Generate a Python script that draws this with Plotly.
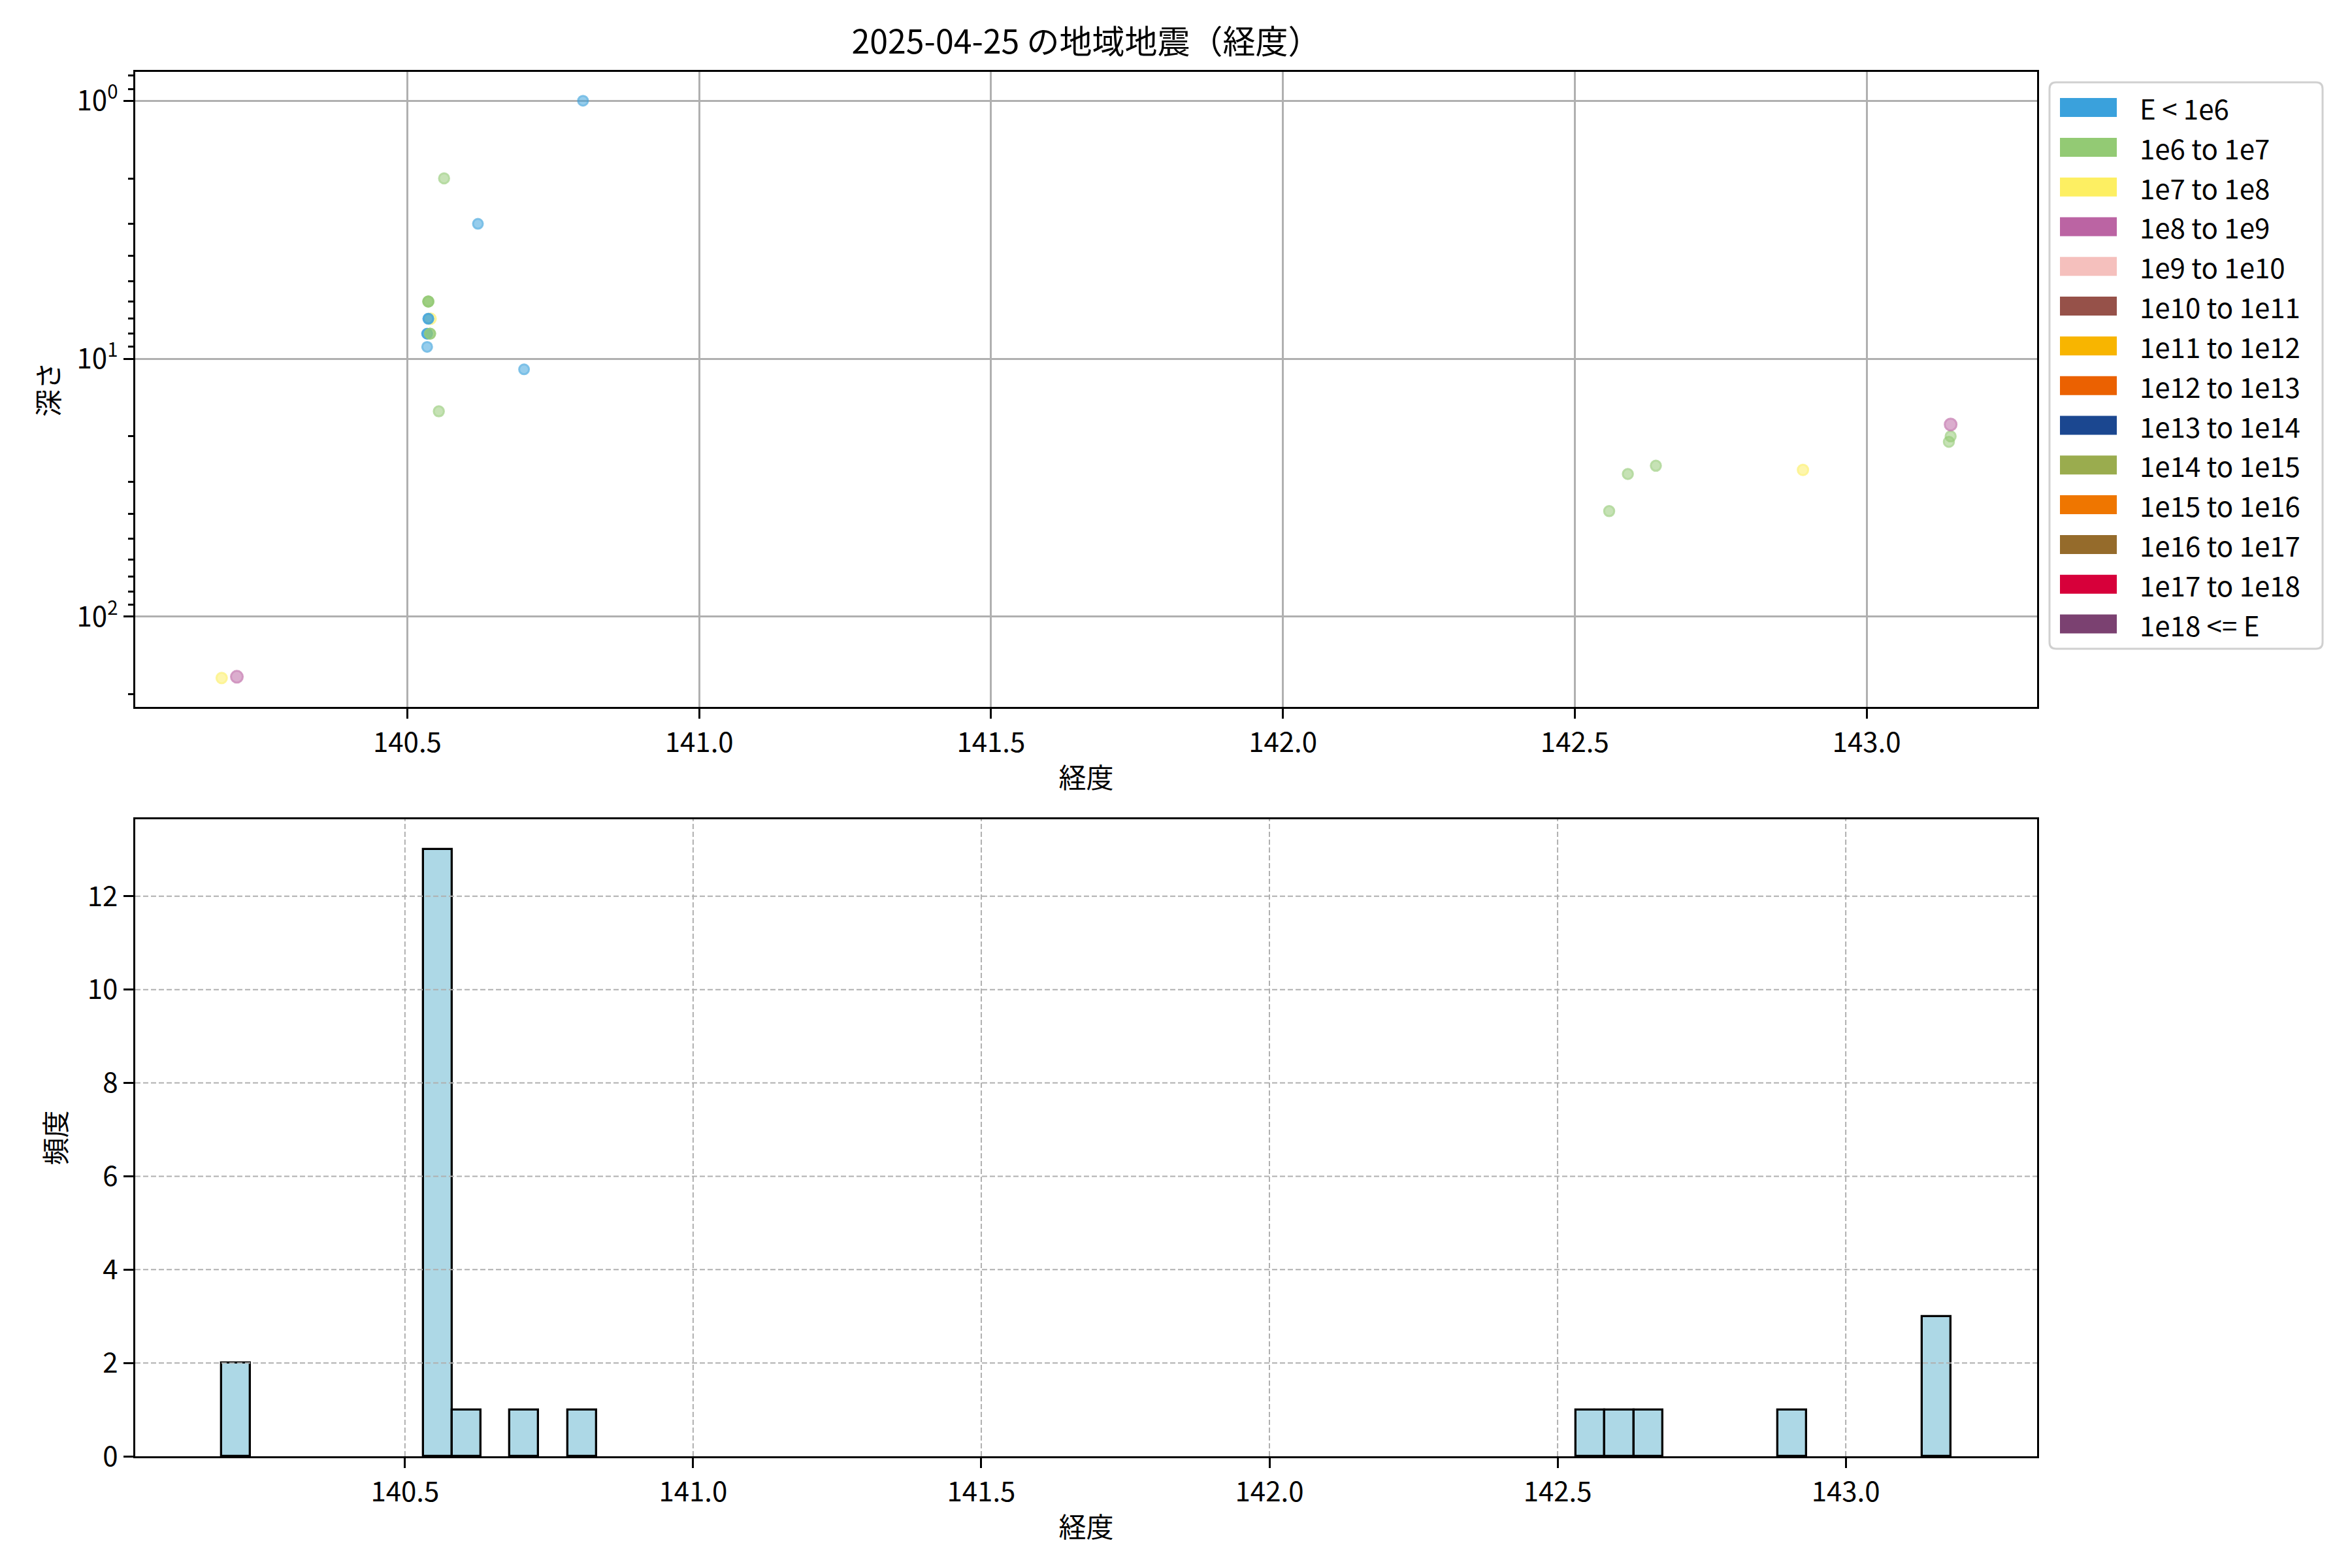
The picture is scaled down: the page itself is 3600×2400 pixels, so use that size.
import math
import plotly.graph_objects as go

# ---------------- data ----------------
title_text = "2025-04-25 の地域地震（経度）"
x_label = "経度"
depth_label = "深さ"
freq_label = "頻度"

class_labels = ["E < 1e6", "1e6 to 1e7", "1e7 to 1e8", "1e8 to 1e9", "1e9 to 1e10",
                "1e10 to 1e11", "1e11 to 1e12", "1e12 to 1e13", "1e13 to 1e14",
                "1e14 to 1e15", "1e15 to 1e16", "1e16 to 1e17", "1e17 to 1e18", "1e18 <= E"]
class_colors = ["#3aa1dc", "#93ca74", "#fdef62", "#bb64a3", "#f5c0bd", "#965149", "#f8b500",
                "#eb6101", "#1b4790", "#9aac4e", "#ef7600", "#956b2b", "#d7003a", "#7b4171"]

lon = [140.182, 140.208, 140.540, 140.536, 140.536, 140.534, 140.534, 140.539, 140.539,
       140.534, 140.536, 140.536, 140.536, 140.554, 140.563, 140.621, 140.700, 140.801,
       142.559, 142.591, 142.639, 142.891, 143.141, 143.144, 143.144]
depth = [173, 171, 7, 7, 7, 8, 8, 8, 8,
         9, 6, 6, 6, 16, 2, 3, 11, 1,
         39, 28, 26, 27, 21, 20, 18]
energy_class = [2, 3, 2, 0, 0, 0, 0, 1, 1,
                0, 1, 1, 1, 1, 1, 0, 0, 0,
                1, 1, 1, 2, 1, 1, 3]

x_ticks = [140.5, 141.0, 141.5, 142.0, 142.5, 143.0]
count_ticks = [0, 2, 4, 6, 8, 10, 12]
bin_width = 0.05
n_bins = 60

# ---------------- styling helpers ----------------
W, H = 3600, 2400
FONT = "Noto Sans CJK JP"
FS = 42


def rgba(hexc, a):
    h = hexc.lstrip("#")
    r, g, b = int(h[0:2], 16), int(h[2:4], 16), int(h[4:6], 16)
    return f"rgba({r},{g},{b},{a})"


def px_x(p):
    return p / W


def px_y(p):
    return 1 - p / H


marker_sizes = {0: 15, 1: 15.5, 2: 16, 3: 18}

fig = go.Figure()

fig.add_trace(go.Scatter(
    x=lon, y=depth, mode="markers", xaxis="x", yaxis="y", showlegend=False,
    marker=dict(
        color=[rgba(class_colors[c], 0.75) for c in energy_class],
        size=[marker_sizes.get(c, 15) for c in energy_class],
        line=dict(color=[rgba(class_colors[c], 0.9) for c in energy_class], width=3),
    ),
))

hist_start = min(lon)
fig.add_trace(go.Histogram(
    x=lon, xaxis="x2", yaxis="y2", showlegend=False,
    xbins=dict(start=hist_start, end=hist_start + n_bins * bin_width, size=bin_width),
    marker=dict(color="#add8e6", line=dict(color="black", width=3.3)),
))

# axis geometry (pixels)
L, R = 207, 3118
T1, B1 = 110, 1082
T2, B2 = 1254, 2229

lmin, lmax = min(lon), max(lon)
span = lmax - lmin
x1_range = [lmin - 0.05 * span, lmax + 0.05 * span]
hspan = n_bins * bin_width
x2_range = [hist_start - 0.05 * hspan, hist_start + hspan + 0.05 * hspan]

ld_min, ld_max = math.log10(min(depth)), math.log10(max(depth))
lspan = ld_max - ld_min
y1_range = [ld_max + 0.05 * lspan, ld_min - 0.05 * lspan]

maxcount = 13
y2_range = [0, maxcount * 1.05]

axis_common = dict(
    showline=True, linecolor="black", linewidth=3.3, mirror=True,
    ticks="outside", ticklen=15, tickwidth=3.3, tickcolor="black",
    tickfont=dict(family=FONT, size=FS, color="black"),
    zeroline=False, automargin=False,
)

minor_vals = [0.8, 0.9] + [v for v in range(2, 10)] + [v * 10 for v in range(2, 10)] + [200]

fig.update_layout(
    width=W, height=H,
    margin=dict(l=0, r=0, t=0, b=0, autoexpand=False),
    paper_bgcolor="white", plot_bgcolor="white",
    font=dict(family=FONT, size=FS, color="black"),
    bargap=0,
    title=dict(text=title_text, x=(L + R) / 2 / W, xanchor="center",
               y=px_y(64), yanchor="middle", font=dict(family=FONT, size=50, color="black")),
    xaxis=dict(axis_common, domain=[px_x(L), px_x(R)], range=x1_range, anchor="y",
               tickmode="array", tickvals=x_ticks, ticktext=[f"{v:.1f}" for v in x_ticks],
               showgrid=True, gridcolor="#b0b0b0", gridwidth=3.3,
               title=dict(text=x_label, font=dict(family=FONT, size=FS), standoff=16)),
    yaxis=dict(axis_common, domain=[px_y(B1), px_y(T1)], type="log", range=y1_range, anchor="x",
               tickmode="array", tickvals=[1, 10, 100],
               ticktext=["10<sup>0</sup>", "10<sup>1</sup>", "10<sup>2</sup>"],
               showgrid=True, gridcolor="#b0b0b0", gridwidth=3.3,
               minor=dict(tickmode="array", tickvals=minor_vals, ticks="outside", ticklen=8,
                          tickwidth=2.5, tickcolor="black", showgrid=False),
               title=dict(text=depth_label, font=dict(family=FONT, size=FS), standoff=14)),
    xaxis2=dict(axis_common, domain=[px_x(L), px_x(R)], range=x2_range, anchor="y2",
                tickmode="array", tickvals=x_ticks, ticktext=[f"{v:.1f}" for v in x_ticks],
                showgrid=False,
                title=dict(text=x_label, font=dict(family=FONT, size=FS), standoff=16)),
    yaxis2=dict(axis_common, domain=[px_y(B2), px_y(T2)], range=y2_range, anchor="x2",
                tickmode="array", tickvals=count_ticks, ticktext=[str(v) for v in count_ticks],
                showgrid=False,
                title=dict(text=freq_label, font=dict(family=FONT, size=FS), standoff=20)),
)

# dashed grid on histogram drawn above the bars (as in the reference)
shapes = []
grid_line = dict(color="#b0b0b0", width=2, dash="8px,4px")
for v in count_ticks[1:]:
    shapes.append(dict(type="line", xref="x2 domain", yref="y2", x0=0, x1=1, y0=v, y1=v,
                       line=grid_line, layer="above"))
for v in x_ticks:
    shapes.append(dict(type="line", xref="x2", yref="y2 domain", x0=v, x1=v, y0=0, y1=1,
                       line=grid_line, layer="above"))

# manual legend with rectangular patches
LX0, LX1, LY0, LY1 = 3137, 3555, 126, 993
rr = 10
path = (f"M {px_x(LX0 + rr)},{px_y(LY0)} L {px_x(LX1 - rr)},{px_y(LY0)} "
        f"Q {px_x(LX1)},{px_y(LY0)} {px_x(LX1)},{px_y(LY0 + rr)} "
        f"L {px_x(LX1)},{px_y(LY1 - rr)} Q {px_x(LX1)},{px_y(LY1)} {px_x(LX1 - rr)},{px_y(LY1)} "
        f"L {px_x(LX0 + rr)},{px_y(LY1)} Q {px_x(LX0)},{px_y(LY1)} {px_x(LX0)},{px_y(LY1 - rr)} "
        f"L {px_x(LX0)},{px_y(LY0 + rr)} Q {px_x(LX0)},{px_y(LY0)} {px_x(LX0 + rr)},{px_y(LY0)} Z")
shapes.append(dict(type="path", xref="paper", yref="paper", path=path,
                   line=dict(color="#d0d0d0", width=3), fillcolor="rgba(255,255,255,0.8)"))
annotations = []
for i, (lab, col) in enumerate(zip(class_labels, class_colors)):
    cy = 164.6 + 60.8 * i
    shapes.append(dict(type="rect", xref="paper", yref="paper",
                       x0=px_x(3153), x1=px_x(3240), y0=px_y(cy + 14.5), y1=px_y(cy - 14.5),
                       fillcolor=col, line=dict(width=0)))
    annotations.append(dict(text=lab, xref="paper", yref="paper", x=px_x(3273), y=px_y(cy),
                            xanchor="left", yanchor="middle", showarrow=False,
                            font=dict(family=FONT, size=FS, color="black")))

fig.update_layout(shapes=shapes, annotations=annotations)

fig.write_html("out.html", config={"displayModeBar": False},
               post_script="document.body.style.margin='0';document.body.style.padding='0';")
